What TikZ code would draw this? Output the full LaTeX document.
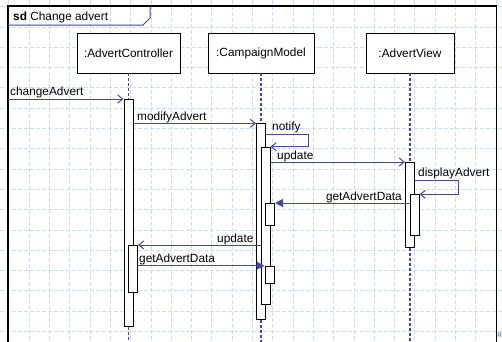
\documentclass[tikz,border=0pt]{standalone}
\usepackage{fontspec}
\setmainfont{Liberation Sans}
\usetikzlibrary{arrows.meta}
\definecolor{msgc}{RGB}{72,72,156}
\definecolor{gridc}{RGB}{208,218,246}
\definecolor{tabc}{RGB}{64,64,170}
\tikzset{
  txt/.style={font=\fontsize{11.9}{14}\selectfont, inner sep=0pt},
  head/.style={draw=black, fill=white, line width=0.9bp, minimum height=40bp, inner sep=0pt, font=\fontsize{11.9}{14}\selectfont},
  act/.style={draw=black, fill=white, line width=1bp, minimum width=9bp, inner sep=0pt, anchor=north},
  life/.style={draw=msgc, line width=1.2bp, dash pattern=on 3bp off 2bp},
  msg/.style={draw=msgc, line width=1bp, -{Straight Barb[length=5bp,width=8bp]}},
  sync/.style={draw=msgc, line width=1bp, -{Triangle[length=8bp,width=8bp]}},
  gridline/.style={draw=gridc, line width=0.6bp, dash pattern=on 4bp off 2bp},
}
\begin{document}
\begin{tikzpicture}[x=1bp,y=-1bp]
\useasboundingbox (0,0) rectangle (502,341);
\fill[white] (0,0) rectangle (502,341);
% grid
\foreach \i in {0,...,24} \draw[gridline] (8.7+20.3*\i,0) -- ++(0,341);
\foreach \j in {0,...,16} \draw[gridline] (0,6.5+20.3*\j) -- ++(502,0);
% frame
\draw[black, line width=1.2bp] (8,345) -- (8,6) -- (496.5,6) -- (496.5,345);
\draw[tabc, line width=1bp] (8,25) -- (143,25) -- (150,18) -- (150,6);
\node[txt, anchor=base west] (title) at (13,20) {\textbf{sd} Change advert};
% heads
\node[head, minimum width=103bp] (hAC) at (128.5,53) {:AdvertController};
\node[head, minimum width=106bp] (hCM) at (261,53) {:CampaignModel};
\node[head, minimum width=88bp] (hAV) at (410,53) {:AdvertView};
% lifeline ends
\coordinate (eAC) at (128.5,345);
\coordinate (eCM) at (261,345);
\coordinate (eAV) at (410,345);
% activations
\node[act, minimum height=227bp] (ac1) at (128.5,99) {};
\node[act, minimum height=196bp] (cm1) at (261,123.3) {};
\node[act, minimum height=84.7bp] (av1) at (410,162) {};
\draw[life] (hAC.south) -- (ac1.north);
\draw[life] (ac1.south) -- (eAC);
\draw[life] (hCM.south) -- (cm1.north);
\draw[life] (cm1.south) -- (eCM);
\draw[life] (hAV.south) -- (av1.north);
\draw[life] (av1.south) -- (eAV);
\node[act, minimum height=46.7bp] (ac2) at (133,245) {};
\node[act, minimum height=157.6bp] (cm2) at (265.5,146.7) {};
\node[act, minimum height=22bp] (cm3) at (270,203) {};
\node[act, minimum height=17.6bp] (cm4) at (269.5,265.7) {};
\node[act, minimum height=40.7bp] (av2) at (414.5,194.3) {};
% messages
\coordinate (gate) at (8,99);
\draw[msg] (gate) -- (ac1.north west);
\node[txt, anchor=base west] (l1) at (10,95.5) {changeAdvert};
\draw[msg] (ac1.east |- cm1.north) -- (cm1.north west);
\node[txt, anchor=base west] (l2) at (137,120) {modifyAdvert};
\coordinate (n1) at (308,134);
\draw[msg] (cm1.east |- n1) -- (n1) |- (cm2.north east);
\node[txt, anchor=base west] (l3) at (272,130) {notify};
\draw[msg] (cm2.east |- av1.north) -- (av1.north west);
\node[txt, anchor=base west] (l4) at (277,159.3) {update};
\coordinate (d1) at (458,180);
\draw[msg] (av1.east |- d1) -- (d1) |- (av2.north east);
\node[txt, anchor=base west] (l5) at (418,176) {displayAdvert};
\draw[sync] (av2.west |- cm3.north) -- (cm3.north east);
\node[txt, anchor=base east] (l6) at (402,200) {getAdvertData};
\draw[msg] (cm2.west |- ac2.north) -- (ac2.north east);
\node[txt, anchor=base west] (l7) at (217,242.7) {update};
\draw[sync] (ac2.east |- cm4.north) -- (cm4.north west);
\node[txt, anchor=base west] (l8) at (139,262.7) {getAdvertData};
\node[font=\fontsize{6.5}{7}\selectfont, text=msgc, anchor=north west, inner sep=0pt] (rr) at (497.2,333) {R};
\end{tikzpicture}
\end{document}
